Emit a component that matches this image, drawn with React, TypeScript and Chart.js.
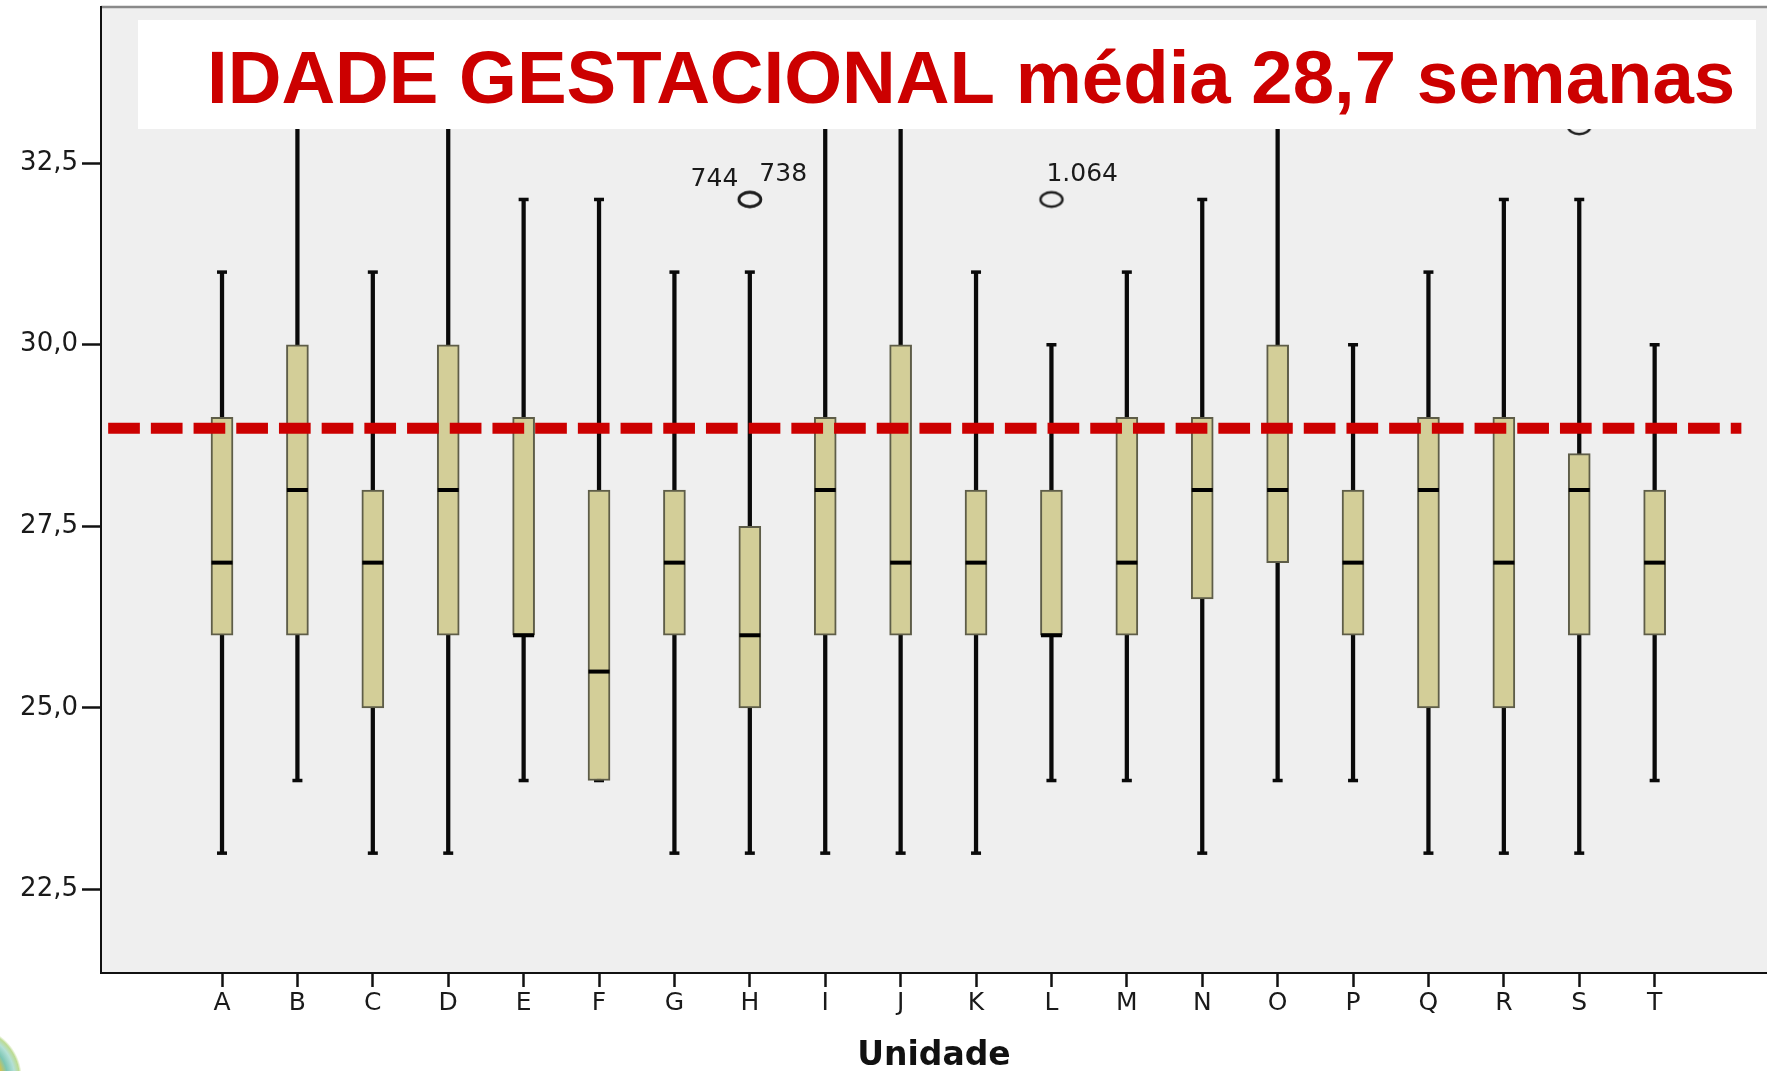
import React, { useEffect, useRef } from 'react';
import { Chart, registerables } from 'chart.js';

Chart.register(...registerables);

// ---- data ----
const categories = ['A', 'B', 'C', 'D', 'E', 'F', 'G', 'H', 'I', 'J', 'K', 'L', 'M', 'N', 'O', 'P', 'Q', 'R', 'S', 'T'];
const whiskerLow = [23, 24, 23, 23, 24, 24, 23, 23, 23, 23, 23, 24, 24, 23, 24, 24, 23, 23, 23, 24];
const q1 = [26, 26, 25, 26, 26, 24, 26, 25, 26, 26, 26, 26, 26, 26.5, 27, 26, 25, 25, 26, 26];
const median = [27, 28, 27, 28, 26, 25.5, 27, 26, 28, 27, 27, 26, 27, 28, 28, 27, 28, 27, 28, 27];
const q3 = [29, 30, 28, 30, 29, 28, 28, 27.5, 29, 30, 28, 28, 29, 29, 30, 28, 29, 29, 28.5, 28];
const whiskerHigh = [31, 34, 31, 34, 32, 32, 31, 31, 34, 34, 31, 30, 31, 32, 34, 30, 31, 32, 32, 30];

const outlierCategory = [7, 7, 11, 18];
const outlierValue = [32, 32, 32, 33];
const outlierLabel = ['744', '738', '1.064', ''];

const meanValue = 28.85;
const meanLineX = [-1.51, 20.15];

const yTicks = [22.5, 25, 27.5, 30, 32.5];
const yRange = [21.35, 34.65];
const xRange = [-1.605, 20.49];

const titleText = 'IDADE GESTACIONAL média 28,7 semanas';
const xAxisTitle = 'Unidade';

function makeEllipse(): HTMLCanvasElement {
  const c = document.createElement('canvas');
  c.width = 28;
  c.height = 20;
  const g = c.getContext('2d')!;
  g.strokeStyle = '#1e1e1e';
  g.lineWidth = 2.4;
  g.beginPath();
  g.ellipse(14, 10, 11, 7.2, 0, 0, Math.PI * 2);
  g.stroke();
  return c;
}

const decorPlugin = {
  id: 'decor',
  beforeDraw(chart: any) {
    const { ctx, chartArea } = chart;
    ctx.save();
    ctx.fillStyle = '#ffffff';
    ctx.fillRect(0, 0, chart.width, chart.height);
    ctx.fillStyle = '#EFEFEF';
    ctx.fillRect(chartArea.left, chartArea.top, chartArea.right - chartArea.left, chartArea.bottom - chartArea.top);
    ctx.strokeStyle = '#8a8a8a';
    ctx.lineWidth = 2.5;
    ctx.beginPath();
    ctx.moveTo(chartArea.left, chartArea.top);
    ctx.lineTo(chartArea.right, chartArea.top);
    ctx.stroke();
    ctx.restore();
  },
  afterDatasetsDraw(chart: any) {
    const { ctx } = chart;
    const xs = chart.scales.x;
    const ys = chart.scales.y;
    ctx.save();
    // outlier labels
    ctx.font = '25px "DejaVu Sans"';
    ctx.fillStyle = '#1a1a1a';
    ctx.textBaseline = 'alphabetic';
    outlierLabel.forEach((lab, i) => {
      if (!lab) return;
      const cx = xs.getPixelForValue(outlierCategory[i]);
      const cy = ys.getPixelForValue(outlierValue[i]);
      let groupSize = 0;
      let k = 0;
      outlierLabel.forEach((_, j) => {
        if (outlierCategory[j] === outlierCategory[i] && outlierValue[j] === outlierValue[i]) {
          groupSize++;
          if (j < i) k++;
        }
      });
      if (groupSize > 1 && k === 0) {
        ctx.textAlign = 'right';
        ctx.fillText(lab, cx - 11.5, cy - 13);
      } else {
        ctx.textAlign = 'left';
        ctx.fillText(lab, groupSize > 1 ? cx + 9.5 : cx - 5, cy - 18);
      }
    });
    // title banner
    ctx.fillStyle = '#ffffff';
    ctx.fillRect(138, 20, 1618, 109);
    ctx.font = 'bold 74.4px "Liberation Sans", Arial, sans-serif';
    ctx.fillStyle = '#CC0000';
    ctx.textAlign = 'left';
    ctx.fillText(titleText, 207, 103);
    ctx.restore();
  },
  afterDraw(chart: any) {
    const { ctx } = chart;
    ctx.save();
    const cx = -30;
    const cy = 1078;
    const g = ctx.createRadialGradient(cx, cy, 0, cx, cy, 52);
    g.addColorStop(0, '#d9b43a');
    g.addColorStop(0.6, '#d4c24e');
    g.addColorStop(0.72, '#7cc6b4');
    g.addColorStop(0.86, '#b4e0d6');
    g.addColorStop(0.95, '#bcdb92');
    g.addColorStop(1, 'rgba(200,225,160,0)');
    ctx.fillStyle = g;
    ctx.beginPath();
    ctx.arc(cx, cy, 52, 0, Math.PI * 2);
    ctx.fill();
    ctx.restore();
  },
};

export default function App() {
  const ref = useRef<HTMLCanvasElement | null>(null);

  useEffect(() => {
    if (!ref.current) return;
    const ellipse = makeEllipse();
    const idx = categories.map((_, i) => i);

    const chart = new Chart(ref.current, {
      type: 'scatter',
      data: {
        datasets: [
          {
            type: 'bar',
            label: 'whiskers',
            data: idx.map((i) => ({ x: i, y: [whiskerLow[i], whiskerHigh[i]] })) as any,
            backgroundColor: '#0a0a0a',
            borderWidth: 0,
            barThickness: 3.6,
            grouped: false,
            order: 6,
          } as any,
          {
            type: 'scatter',
            label: 'caps',
            data: idx.flatMap((i) => [
              { x: i, y: whiskerLow[i] },
              { x: i, y: whiskerHigh[i] },
            ]),
            pointStyle: 'line',
            pointRadius: 5,
            borderColor: '#0a0a0a',
            borderWidth: 3.5,
            pointBorderWidth: 3.5,
            order: 5,
          } as any,
          {
            type: 'bar',
            label: 'boxes',
            data: idx.map((i) => ({ x: i, y: [q1[i], q3[i]] })) as any,
            backgroundColor: '#D3CE98',
            borderColor: '#5E5D48',
            borderWidth: 2,
            borderSkipped: false,
            barThickness: 22,
            grouped: false,
            order: 4,
          } as any,
          {
            type: 'scatter',
            label: 'median',
            data: idx.map((i) => ({ x: i, y: median[i] })),
            pointStyle: 'line',
            pointRadius: 10.5,
            borderColor: '#000000',
            borderWidth: 4,
            pointBorderWidth: 4,
            order: 3,
          } as any,
          {
            type: 'line',
            label: 'mean',
            data: meanLineX.map((x) => ({ x, y: meanValue })),
            borderColor: '#CC0000',
            borderWidth: 11,
            borderDash: [31.7, 11],
            borderCapStyle: 'butt',
            pointRadius: 0,
            fill: false,
            order: 2,
          } as any,
          {
            type: 'scatter',
            label: 'outliers',
            data: outlierCategory.map((c, i) => ({ x: c, y: outlierValue[i] })),
            pointStyle: ellipse,
            pointRadius: 10,
            order: 1,
          } as any,
        ],
      },
      options: {
        responsive: false,
        animation: false,
        devicePixelRatio: 1,
        layout: { autoPadding: false, padding: { top: 7, right: 0, bottom: 0, left: 0 } },
        plugins: {
          legend: { display: false },
          tooltip: { enabled: false },
          title: { display: false },
        },
        scales: {
          x: {
            type: 'linear',
            min: xRange[0],
            max: xRange[1],
            offset: false,
            afterBuildTicks: (s: any) => {
              s.ticks = idx.map((i) => ({ value: i }));
            },
            afterFit: (s: any) => {
              s.height = 98;
              s.paddingLeft = 0;
              s.paddingRight = 0;
              s.paddingTop = 0;
              s.paddingBottom = 0;
            },
            grid: {
              display: true,
              drawOnChartArea: false,
              drawTicks: true,
              tickLength: 14,
              tickWidth: 2.5,
              tickColor: '#111111',
              offset: false,
            },
            border: { display: true, color: '#111111', width: 2 },
            ticks: {
              autoSkip: false,
              maxRotation: 0,
              color: '#1a1a1a',
              padding: 1,
              font: { family: 'DejaVu Sans', size: 25 },
              callback: (v: any) => categories[Number(v)] ?? '',
            },
            title: {
              display: true,
              text: xAxisTitle,
              color: '#111111',
              font: { family: 'DejaVu Sans', size: 33, weight: 'bold' },
              padding: { top: 0, bottom: -5 },
            },
          },
          y: {
            type: 'linear',
            min: yRange[0],
            max: yRange[1],
            afterBuildTicks: (s: any) => {
              s.ticks = yTicks.map((v) => ({ value: v }));
            },
            afterFit: (s: any) => {
              s.width = 101;
              s.paddingTop = 0;
              s.paddingBottom = 0;
              s.paddingLeft = 0;
              s.paddingRight = 0;
            },
            grid: {
              display: true,
              drawOnChartArea: false,
              drawTicks: true,
              tickLength: 19,
              tickWidth: 2.5,
              tickColor: '#111111',
            },
            border: { display: true, color: '#111111', width: 2 },
            ticks: {
              color: '#1a1a1a',
              padding: 4,
              font: { family: 'DejaVu Sans', size: 26 },
              callback: (v: any) => Number(v).toFixed(1).replace('.', ','),
            },
          },
        },
      } as any,
      plugins: [decorPlugin],
    });

    return () => chart.destroy();
  }, []);

  return (
    <div style={{ position: 'absolute', left: 0, top: 0, width: 1767, height: 1071, background: '#fff' }}>
      <canvas ref={ref} width={1767} height={1071} />
    </div>
  );
}
